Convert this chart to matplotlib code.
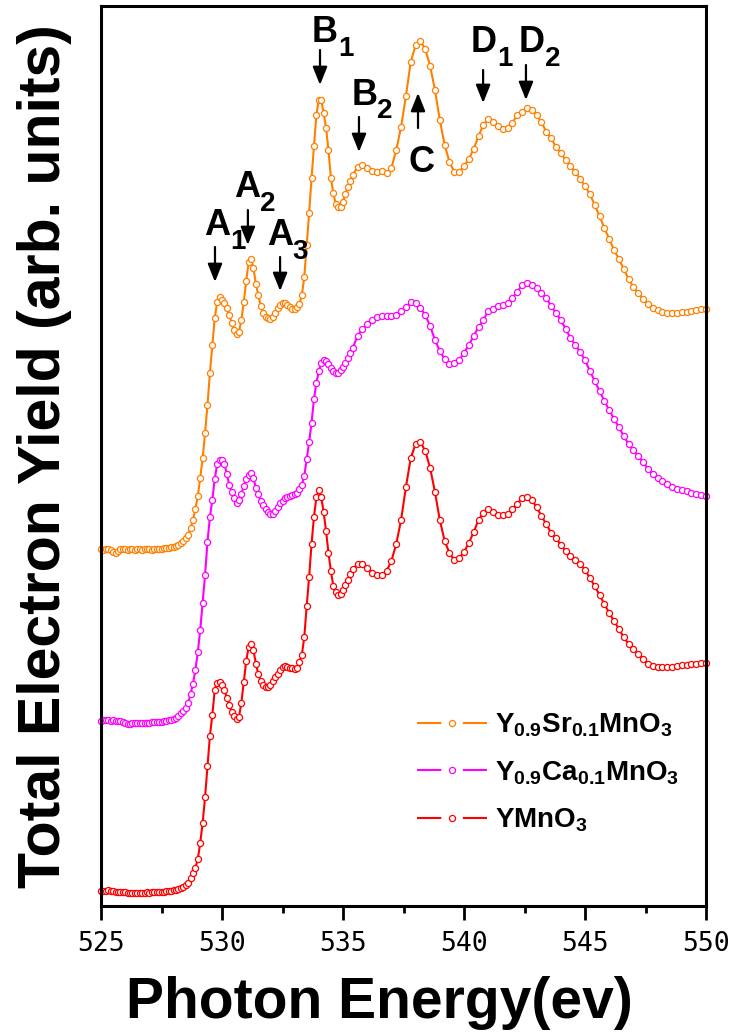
import numpy as np
import matplotlib
import matplotlib.pyplot as plt
from matplotlib.lines import Line2D

matplotlib.rcParams['font.family'] = 'sans-serif'
matplotlib.rcParams['font.sans-serif'] = ['Liberation Sans']
matplotlib.rcParams['mathtext.fontset'] = 'custom'
matplotlib.rcParams['mathtext.rm'] = 'Liberation Sans'
matplotlib.rcParams['mathtext.bf'] = 'Liberation Sans:bold'
matplotlib.rcParams['lines.scale_dashes'] = False

# Photon energy grid: 0.1 eV steps through the edge, 0.2 eV above 535.5 eV
energy = np.concatenate([np.arange(525.0, 535.45, 0.1), np.arange(535.6, 550.05, 0.2)]).round(1)

# Y0.9Sr0.1MnO3 (offset upper trace)
sr_yield = [
    356, 355, 356, 356, 355, 353, 352, 354, 356, 356,
    356, 355, 356, 356, 355, 356, 356, 355, 356, 356,
    356, 355, 356, 356, 356, 356, 357, 357, 357, 358,
    358, 359, 360, 362, 364, 367, 370, 377, 385, 396,
    409, 427, 447, 472, 500, 532, 560, 587, 603, 608,
    605, 602, 597, 590, 582, 575, 571, 573, 585, 603,
    624, 643, 646, 637, 621, 610, 599, 592, 588, 587,
    586, 588, 592, 597, 600, 602, 602, 600, 598, 596,
    596, 598, 601, 610, 628, 660, 692, 727, 759, 790,
    805, 805, 792, 777, 755, 727, 712, 701, 698, 698,
    703, 711, 718, 724, 730,
    738, 740, 737, 734, 733, 734, 732, 737, 755, 778,
    809, 843, 860, 864, 856, 839, 815, 785, 760, 743,
    733, 733, 739, 746, 756, 769, 780, 786, 783, 779,
    776, 777, 782, 790, 793, 797, 795, 790, 783, 773,
    767, 758, 752, 745, 739, 733, 726, 719, 711, 700,
    689, 677, 666, 655, 646, 636, 626, 618, 612, 606,
    601, 597, 595, 593, 592, 592, 592, 593, 593, 594,
    595, 596, 596,
]

# Y0.9Ca0.1MnO3 (middle trace)
ca_yield = [
    184, 185, 185, 185, 184, 185, 184, 184, 184, 183,
    182, 181, 181, 182, 182, 182, 182, 182, 182, 182,
    182, 183, 183, 183, 183, 183, 184, 184, 185, 185,
    186, 187, 189, 192, 194, 197, 202, 211, 221, 235,
    253, 275, 302, 330, 363, 388, 405, 426, 441, 445,
    445, 441, 431, 420, 413, 407, 402, 405, 411, 419,
    426, 430, 432, 427, 417, 411, 404, 400, 396, 393,
    391, 391, 394, 398, 402, 404, 407, 408, 409, 410,
    411, 412, 416, 420, 429, 446, 463, 482, 506, 522,
    534, 542, 545, 544, 541, 537, 534, 532, 532, 535,
    538, 542, 547, 552, 557,
    569, 576, 581, 585, 588, 589, 589, 589, 590, 594,
    598, 603, 602, 597, 590, 579, 565, 554, 546, 541,
    542, 545, 552, 560, 569, 578, 585, 594, 596, 599,
    600, 602, 607, 613, 620, 622, 620, 617, 612, 607,
    599, 592, 585, 576, 567, 560, 553, 545, 534, 524,
    514, 504, 495, 486, 478, 469, 461, 455, 449, 443,
    436, 431, 427, 424, 421, 418, 416, 415, 414, 412,
    411, 410, 409,
]

# YMnO3 (bottom trace)
y_yield = [
    14, 14, 14, 15, 14, 14, 13, 13, 13, 13,
    13, 12, 12, 12, 12, 12, 12, 12, 12, 13,
    12, 13, 13, 13, 13, 13, 13, 14, 14, 14,
    15, 15, 16, 17, 18, 20, 22, 27, 32, 37,
    46, 62, 82, 108, 139, 169, 190, 215, 222, 223,
    220, 215, 207, 200, 193, 189, 186, 188, 202, 223,
    244, 258, 261, 255, 241, 231, 224, 220, 218, 218,
    220, 224, 228, 231, 235, 238, 239, 238, 237, 237,
    236, 237, 243, 250, 268, 299, 328, 361, 388, 408,
    415, 408, 393, 374, 352, 334, 319, 313, 310, 311,
    315, 320, 325, 331, 336,
    341, 341, 337, 332, 330, 330, 334, 344, 361, 385,
    418, 447, 461, 463, 454, 437, 413, 385, 364, 352,
    345, 347, 353, 362, 373, 385, 392, 396, 393, 390,
    390, 391, 396, 401, 407, 408, 405, 398, 389, 381,
    372, 367, 360, 354, 349, 345, 341, 335, 327, 319,
    310, 301, 292, 284, 276, 268, 261, 256, 251, 246,
    241, 239, 238, 238, 238, 238, 239, 240, 240, 241,
    241, 242, 242,
]

series = [
    (sr_yield, '#FF8000', r'$\mathbf{Y_{0.9}Sr_{0.1}MnO_3}$'),
    (ca_yield, '#FF00FF', r'$\mathbf{Y_{0.9}Ca_{0.1}MnO_3}$'),
    (y_yield, '#FF0000', r'$\mathbf{YMnO_3}$'),
]

# Peak labels: (letter, subscript, letter pos, subscript pos, arrow tail, arrow tip)
peaks = [
    ('A', '1', (529.25, 670), (530.36, 656), (529.71, 658), (529.71, 623)),
    ('A', '2', (530.49, 708), (531.55, 694), (531.07, 695), (531.07, 660)),
    ('A', '3', (531.85, 660), (532.92, 646), (532.40, 648), (532.40, 614)),
    ('B', '1', (533.72, 863), (534.80, 849), (534.05, 855), (534.05, 820)),
    ('B', '2', (535.37, 800), (536.40, 787), (535.66, 788), (535.66, 753)),
    ('C', '', (537.72, 733), None, (538.10, 777), (538.10, 812)),
    ('D', '1', (540.28, 853), (541.38, 839), (540.79, 835), (540.79, 802)),
    ('D', '2', (542.26, 853), (543.36, 839), (542.56, 840), (542.56, 805)),
]

fig = plt.figure(figsize=(7.31, 10.36), dpi=100)
ax = fig.add_axes([101 / 731, 1 - 906 / 1036, 605 / 731, 900 / 1036])

for values, color, label in series:
    ax.plot(energy, values, color=color, lw=1.5, marker='o', ms=4.4,
            mfc='white', mec=color, mew=0.9, clip_on=False)

for letter, sub, pos, sub_pos, tail, tip in peaks:
    ax.text(pos[0], pos[1], letter, fontsize=26, fontweight='bold',
            ha='left', va='baseline')
    if sub:
        ax.text(sub_pos[0], sub_pos[1], sub, fontsize=20, fontweight='bold',
                ha='left', va='baseline')
    ax.annotate('', xy=tip, xytext=tail,
                arrowprops=dict(arrowstyle='-|>,head_length=0.55,head_width=0.22',
                                color='black', lw=1.6, mutation_scale=20,
                                shrinkA=0, shrinkB=0))

# Legend handles: line - marker - line
handles = [Line2D([], [], color=c, lw=1.5, linestyle=(0, (17.5, 15.5)),
                  marker='o', ms=4.4, mfc='white', mec=c, mew=0.9)
           for _, c, _ in series]
labels = [lab for _, _, lab in series]
ax.legend(handles, labels, loc='upper left', bbox_to_anchor=(0.522, 0.216),
          frameon=False, fontsize=20, handlelength=2.52, handletextpad=0.3,
          labelspacing=0.72, borderpad=0, borderaxespad=0, numpoints=1)

# Axes, ticks
ax.set_xlim(525, 550)
ax.set_ylim(-1, 899)
ax.set_yticks([])
ax.set_xticks([525, 530, 535, 540, 545, 550])
ax.set_xticks(np.arange(527.5, 550, 5), minor=True)
ax.tick_params(axis='x', which='major', direction='out', length=10, width=2,
               labelsize=19, pad=8)
ax.tick_params(axis='x', which='minor', direction='out', length=5, width=2)
for lab in ax.get_xticklabels():
    lab.set_fontfamily('DejaVu Sans Mono')
for spine in ax.spines.values():
    spine.set_linewidth(2.2)

ax.set_xlabel('Photon Energy(ev)', fontsize=41, fontweight='bold', va='center')
ax.xaxis.set_label_coords(0.461, -0.108)
ax.set_ylabel('Total Electron Yield (arb. units)', fontsize=42.5,
              fontweight='bold', va='center')
ax.yaxis.set_label_coords(-0.093, 0.5)

fig.savefig('out.png', dpi=100)
